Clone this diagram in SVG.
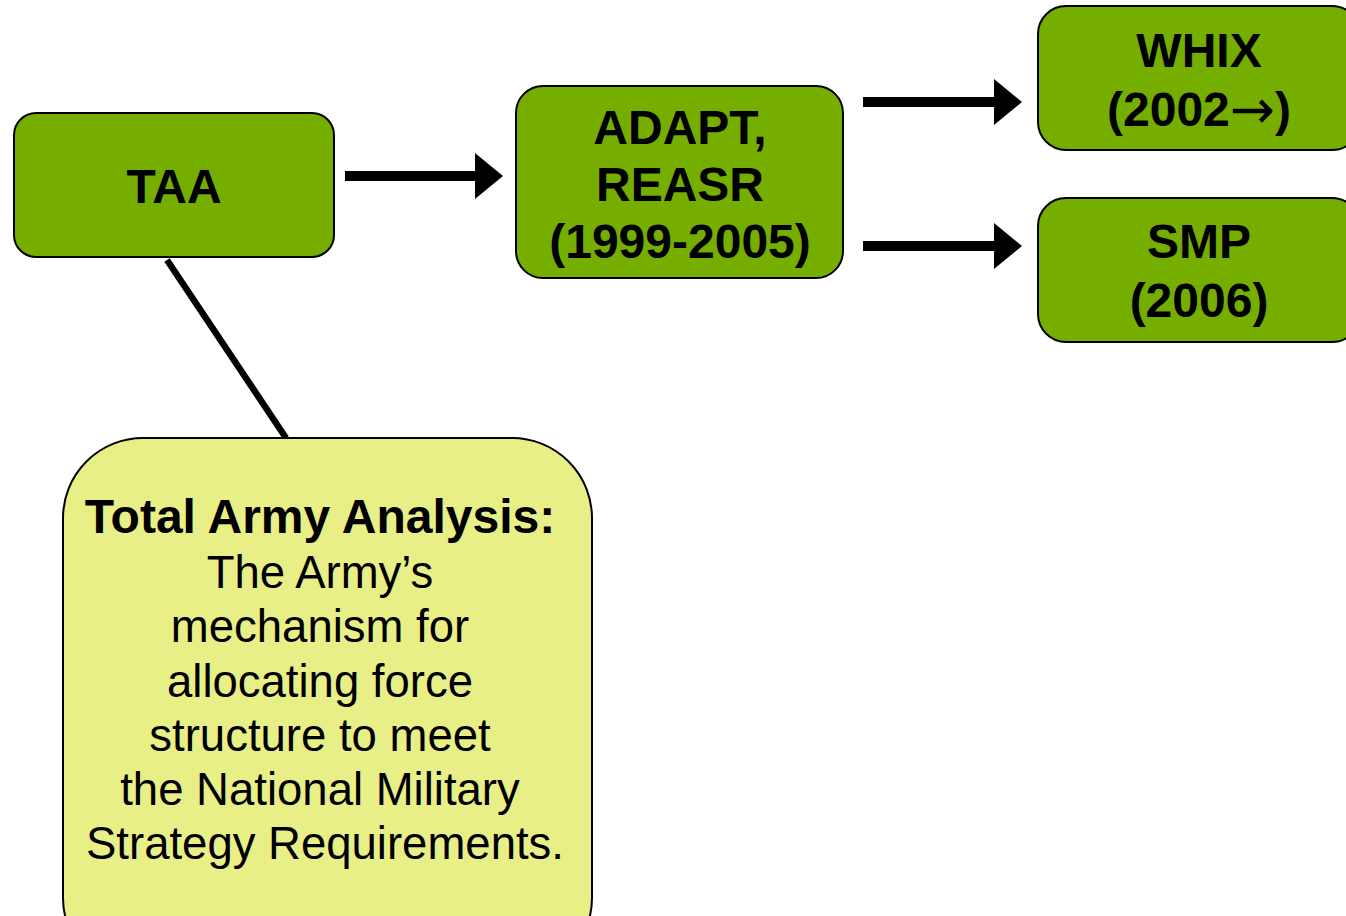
<svg xmlns="http://www.w3.org/2000/svg" width="1346" height="916" viewBox="0 0 1346 916">
<style>
.g{fill:#76AE00;stroke:#000;stroke-width:2}
.y{fill:#E8EF86;stroke:#000;stroke-width:2}
.b{font-family:"Liberation Sans",Arial,sans-serif;font-weight:bold;font-size:48px;fill:#000;text-anchor:middle}
.r{font-family:"Liberation Sans",Arial,sans-serif;font-size:45.5px;fill:#000;text-anchor:middle}
.c{stroke:#000;stroke-width:10;fill:none}
</style>
<defs>
<marker id="ah" markerUnits="userSpaceOnUse" markerWidth="30" markerHeight="48" refX="1" refY="23" orient="auto" viewBox="0 0 30 48">
<path d="M0,0 L28,23 L0,46 Z" fill="#000"/>
</marker>
</defs>
<rect width="1346" height="916" fill="#fff"/>
<g id="connectors">
<line class="c" x1="345" y1="176" x2="476" y2="176" marker-end="url(#ah)"/>
<line class="c" x1="863" y1="102" x2="995" y2="102" marker-end="url(#ah)"/>
<line class="c" x1="863" y1="246" x2="995" y2="246" marker-end="url(#ah)"/>
<line x1="167" y1="260" x2="286" y2="438" stroke="#000" stroke-width="6.5"/>
</g>
<g id="taa">
<rect class="g" x="14" y="113" width="320" height="144" rx="22"/>
<text class="b" x="174" y="203">TAA</text>
</g>
<g id="adapt">
<rect class="g" x="516" y="86" width="327" height="192" rx="27"/>
<text class="b" x="680" y="144">ADAPT,</text>
<text class="b" x="680" y="201">REASR</text>
<text class="b" x="680" y="258">(1999-2005)</text>
</g>
<g id="whix">
<rect class="g" x="1038" y="6" width="322" height="144" rx="28"/>
<text class="b" x="1199" y="67">WHIX</text>
<text class="b" x="1199" y="126">(2002<tspan font-family="'DejaVu Sans',sans-serif" font-weight="normal" font-size="54" dy="2">→</tspan><tspan dy="-2">)</tspan></text>
</g>
<g id="smp">
<rect class="g" x="1038" y="198" width="322" height="144" rx="28"/>
<text class="b" x="1199" y="258">SMP</text>
<text class="b" x="1199" y="317">(2006)</text>
</g>
<g id="note">
<rect class="y" x="63" y="438" width="529" height="540" rx="80"/>
<text class="b" x="320" y="533">Total Army Analysis:</text>
<text class="r" x="320" y="588">The Army’s</text>
<text class="r" x="320" y="642">mechanism for</text>
<text class="r" x="320" y="697">allocating force</text>
<text class="r" x="320" y="751">structure to meet</text>
<text class="r" x="320" y="805">the National Military</text>
<text class="r" x="325" y="859">Strategy Requirements.</text>
</g>
</svg>
